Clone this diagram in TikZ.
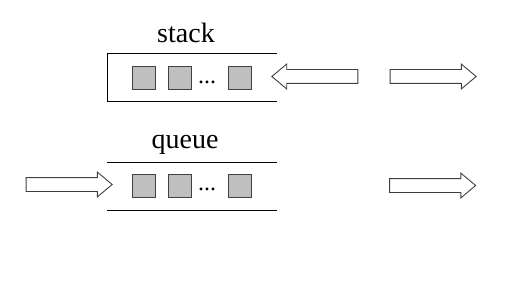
\documentclass[tikz,border=0pt]{standalone}
\usepackage{fontspec}
\setmainfont{Liberation Serif}
\usetikzlibrary{shapes.arrows}
\tikzset{
  item/.style={draw=black!75,fill=black!25,line width=0.9pt,minimum size=23pt,inner sep=0pt},
  flow/.style={single arrow,draw=black!75,line width=0.9pt,inner xsep=0pt,inner ysep=6.5pt,
    minimum height=86pt,minimum width=24pt,single arrow head extend=5.5pt,
    single arrow head indent=0pt,single arrow tip angle=80},
  lbl/.style={font=\fontsize{28}{30}\selectfont,anchor=base,inner sep=0pt},
  gap/.style={font=\fontsize{24}{26}\selectfont,anchor=base,inner sep=0pt}
}
\begin{document}
\begin{tikzpicture}[x=1pt,y=-1pt]
  \useasboundingbox (0,0) rectangle (524,286);
  % stack
  \coordinate (S1) at (107,53);
  \coordinate (S2) at (277,53);
  \coordinate (S3) at (107,101);
  \coordinate (S4) at (277,101);
  \draw[line width=0.9pt] (S2)--(S1)--(S3)--(S4);
  \node[lbl] (stk) at (186,43) {stack};
  \node[item] (s1) at (143.5,78) {};
  \node[item] (s2) at (180,78) {};
  \node[gap] (sd) at (207,84) {...};
  \node[item] (s3) at (240,78) {};
  \node[flow,shape border rotate=180] (push) at (319,76.5) {};
  \node[flow] (pop) at (429,76.5) {};
  % queue
  \coordinate (Q1) at (107,162);
  \coordinate (Q2) at (277,162);
  \coordinate (Q3) at (107,210);
  \coordinate (Q4) at (277,210);
  \draw[line width=0.9pt] (Q1)--(Q2);
  \draw[line width=0.9pt] (Q3)--(Q4);
  \node[lbl] (que) at (185,148) {queue};
  \node[item] (q1) at (143.5,185.5) {};
  \node[item] (q2) at (180,185.5) {};
  \node[gap] (qd) at (207,190.5) {...};
  \node[item] (q3) at (240,185.5) {};
  \node[flow] (enq) at (65,184.5) {};
  \node[flow] (deq) at (428.5,185.5) {};
\end{tikzpicture}
\end{document}
